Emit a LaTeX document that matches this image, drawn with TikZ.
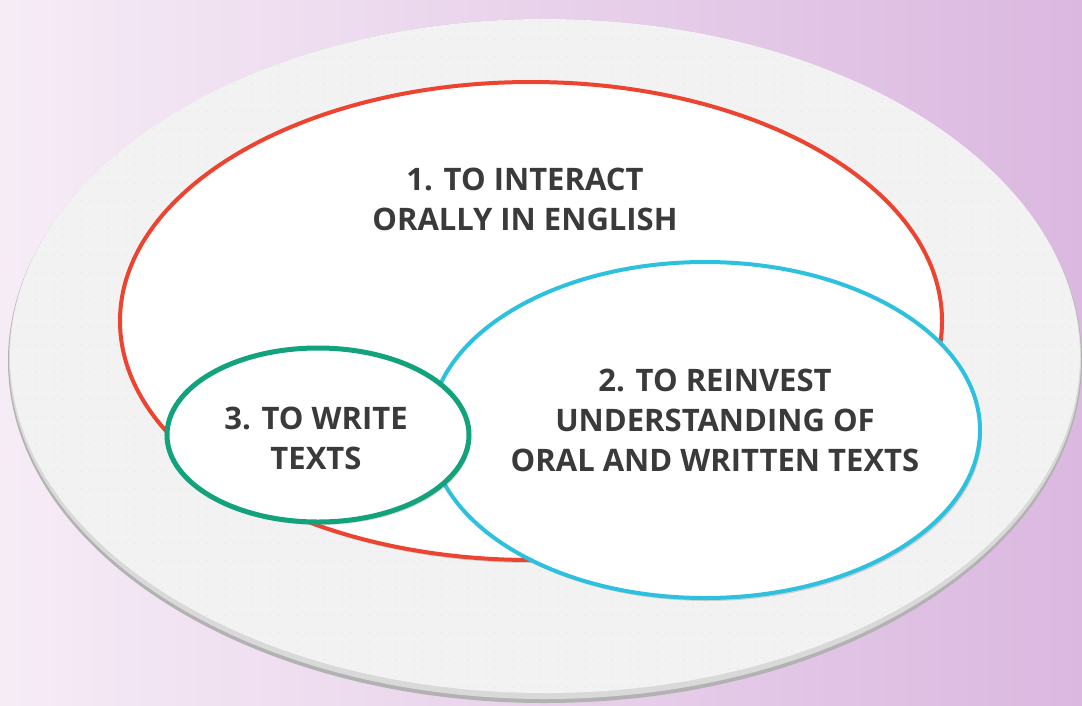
\documentclass[tikz,border=0pt]{standalone}
\usepackage{fontspec}
\setmainfont{Open Sans}
\usetikzlibrary{shapes.geometric,shadows,patterns.meta}

\definecolor{bgleft}{HTML}{F6ECF6}
\definecolor{bgright}{HTML}{DBB8E0}
\definecolor{ringgrey}{HTML}{F2F2F2}
\definecolor{aimred}{HTML}{EC4430}
\definecolor{aimcyan}{HTML}{2EC1DF}
\definecolor{aimgreen}{HTML}{12A27C}
\definecolor{aimtext}{HTML}{3A3A3A}

\tikzset{
  aim/.style={ellipse,draw=#1,line width=4pt,fill=white,inner sep=0pt,
    drop shadow={shadow xshift=2pt,shadow yshift=-3pt,opacity=.3}},
  aimlabel/.style={align=center,inner sep=0pt,text=aimtext,
    font=\fontsize{31}{40}\selectfont\bfseries}
}

\begin{document}
\begin{tikzpicture}[x=1pt,y=-1pt]
\path[use as bounding box] (0,0) rectangle (1082,705);
\shade[left color=bgleft,right color=bgright] (0,0) rectangle (1082,705);
% grey tray with darker lower rim
\fill[black!30] (545,361) ellipse [x radius=537, y radius=342];
\fill[black!15] (545,359) ellipse [x radius=536, y radius=340];
\fill[ringgrey] (545,356) ellipse [x radius=535, y radius=337];
\fill[pattern={Dots[distance=9pt,radius=.6pt]},pattern color=black!12] (545,356) ellipse [x radius=535, y radius=337];
% the three aims
\node[aim=aimred,minimum width=822pt,minimum height=478pt] (interact) at (531,321) {};
\node[aim=aimcyan,minimum width=550pt,minimum height=336pt] (reinvest) at (705,430) {};
\node[aim=aimgreen,line width=5pt,minimum width=302pt,minimum height=174pt] (write) at (318,435) {};
\node[aimlabel] (interactlbl) at (525,199) {1. TO INTERACT\\ORALLY IN ENGLISH};
\node[aimlabel] (reinvestlbl) at (715,420) {2. TO REINVEST\\UNDERSTANDING OF\\ORAL AND WRITTEN TEXTS};
\node[aimlabel] (writelbl) at (316,438) {3. TO WRITE\\TEXTS};
\end{tikzpicture}
\end{document}
